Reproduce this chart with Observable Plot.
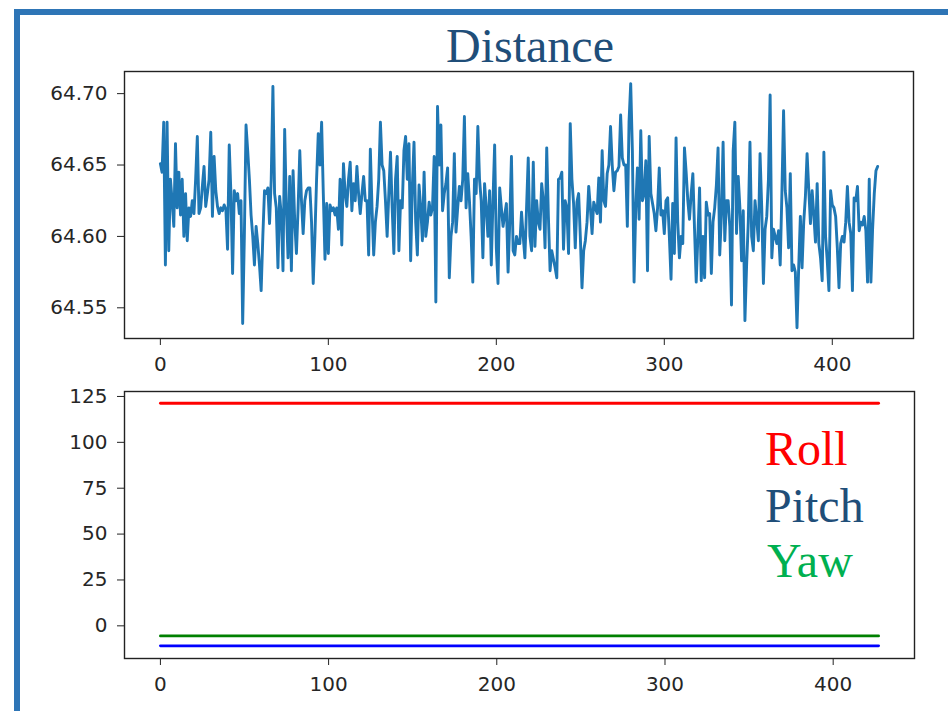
<!DOCTYPE html>
<html>
<head>
<meta charset="utf-8">
<script src="https://cdn.jsdelivr.net/npm/d3@7"></script>
<script src="https://cdn.jsdelivr.net/npm/@observablehq/plot@0.6"></script>
<style>
  html, body { margin: 0; padding: 0; background: #fff; overflow: hidden; }
  #wrap { position: relative; width: 948px; height: 711px; background: #fff; }
  #wrap svg { position: absolute; left: 0; }
  .border { position: absolute; left: 14px; top: 9px; width: 960px; height: 760px;
            border-top: 6px solid #2E75B6; border-left: 6px solid #2E75B6; z-index: 3; pointer-events: none; }
  .txt { position: absolute; font-family: "Liberation Serif", "Times New Roman", serif; font-size: 48px;
         line-height: 48px; white-space: nowrap; z-index: 4; }
</style>
</head>
<body>
<div id="wrap">
  <div class="border"></div>
</div>
<script>
// ---------- data ----------
const titleText = "Distance";
const seriesNames = ["Roll", "Pitch", "Yaw"];
const xTicks = [0, 100, 200, 300, 400];
const distanceTicks = [64.55, 64.60, 64.65, 64.70];
const angleTicks = [0, 25, 50, 75, 100, 125];

const distance = [
64.651,64.645,64.680,64.580,64.680,64.590,64.640,64.625,64.607,64.665,
64.620,64.645,64.615,64.640,64.600,64.630,64.597,64.620,64.614,64.625,
64.616,64.640,64.670,64.616,64.620,64.635,64.649,64.621,64.630,64.640,
64.673,64.614,64.656,64.632,64.621,64.616,64.620,64.618,64.622,64.619,
64.591,64.664,64.630,64.574,64.632,64.625,64.630,64.616,64.625,64.539,
64.600,64.678,64.660,64.640,64.615,64.600,64.580,64.607,64.595,64.580,
64.562,64.600,64.632,64.630,64.634,64.609,64.640,64.705,64.630,64.620,
64.578,64.628,64.615,64.576,64.675,64.620,64.585,64.642,64.576,64.646,
64.610,64.588,64.620,64.660,64.625,64.602,64.625,64.632,64.634,64.634,
64.610,64.567,64.600,64.640,64.672,64.650,64.680,64.630,64.584,64.623,
64.588,64.622,64.618,64.620,64.615,64.620,64.605,64.640,64.594,64.651,
64.630,64.621,64.640,64.652,64.618,64.637,64.625,64.649,64.630,64.616,
64.630,64.642,64.625,64.625,64.587,64.661,64.620,64.587,64.610,64.621,
64.640,64.680,64.650,64.646,64.625,64.600,64.630,64.659,64.620,64.588,
64.640,64.656,64.590,64.625,64.620,64.660,64.670,64.640,64.665,64.583,
64.635,64.666,64.610,64.587,64.636,64.620,64.597,64.645,64.600,64.610,
64.624,64.615,64.620,64.656,64.554,64.691,64.650,64.678,64.618,64.630,
64.637,64.648,64.571,64.600,64.610,64.658,64.603,64.620,64.635,64.625,
64.640,64.684,64.620,64.644,64.625,64.600,64.568,64.640,64.630,64.677,
64.640,64.625,64.585,64.637,64.620,64.600,64.632,64.580,64.625,64.664,
64.592,64.567,64.634,64.620,64.607,64.615,64.623,64.575,64.610,64.656,
64.590,64.587,64.600,64.595,64.595,64.617,64.600,64.585,64.620,64.655,
64.600,64.590,64.652,64.593,64.625,64.610,64.605,64.637,64.625,64.592,
64.662,64.614,64.576,64.590,64.584,64.578,64.571,64.640,64.641,64.645,
64.591,64.625,64.620,64.588,64.679,64.640,64.623,64.592,64.624,64.630,
64.600,64.564,64.590,64.597,64.610,64.635,64.620,64.602,64.624,64.620,
64.616,64.641,64.610,64.660,64.625,64.621,64.644,64.650,64.677,64.650,
64.632,64.645,64.646,64.649,64.685,64.655,64.650,64.650,64.607,64.680,
64.707,64.660,64.568,64.620,64.648,64.612,64.674,64.625,64.630,64.653,
64.576,64.670,64.630,64.623,64.616,64.604,64.620,64.648,64.615,64.618,
64.602,64.625,64.627,64.600,64.570,64.623,64.588,64.669,64.610,64.585,
64.600,64.595,64.662,64.645,64.625,64.612,64.630,64.644,64.605,64.568,
64.600,64.634,64.569,64.600,64.571,64.624,64.615,64.616,64.574,64.610,
64.620,64.636,64.662,64.587,64.615,64.666,64.597,64.625,64.625,64.607,
64.552,64.660,64.680,64.602,64.642,64.620,64.583,64.618,64.541,64.580,
64.610,64.666,64.600,64.590,64.625,64.612,64.597,64.658,64.620,64.567,
64.605,64.614,64.640,64.699,64.585,64.605,64.600,64.595,64.604,64.580,
64.630,64.688,64.632,64.620,64.592,64.644,64.576,64.580,64.575,64.536,
64.578,64.614,64.578,64.610,64.628,64.658,64.633,64.609,64.632,64.615,
64.596,64.637,64.595,64.585,64.569,64.659,64.600,64.583,64.562,64.632,
64.622,64.620,64.614,64.592,64.564,64.595,64.600,64.596,64.610,64.635,
64.610,64.602,64.562,64.627,64.625,64.635,64.604,64.610,64.608,64.614,
64.604,64.568,64.640,64.568,64.605,64.630,64.646,64.649
];

// flat attitude series: first and last frame
const attitudeFrames = [0, 427];
const roll  = [121.3, 121.3];
const pitch = [-10.9, -10.9];
const yaw   = [-5.5, -5.5];

// ---------- build tables ----------
const distRows = distance.map((v, i) => ({frame: i, value: v}));
const attRows = [];
[["Roll", roll], ["Pitch", pitch], ["Yaw", yaw]].forEach(([name, arr]) => {
  arr.forEach((v, k) => attRows.push({series: name, frame: attitudeFrames[k], value: v}));
});

const lineColors = {Roll: "#ff0000", Pitch: "#0000ff", Yaw: "#008000"};
const legendColors = {Roll: "#ff0000", Pitch: "#1F4E79", Yaw: "#00B050"};

const baseStyle = {fontFamily: "DejaVu Sans", fontSize: "20px", color: "#262626", background: "transparent", overflow: "visible"};
const xDomain = [-21.35, 448.35];

const topChart = Plot.plot({
  width: 948, height: 380,
  marginLeft: 124, marginRight: 35, marginTop: 71, marginBottom: 42,
  style: baseStyle,
  x: {domain: xDomain},
  y: {domain: [64.5285, 64.7155]},
  marks: [
    Plot.axisX({ticks: xTicks, tickSize: 7, tickPadding: 11, label: null, stroke: "#222"}),
    Plot.axisY({ticks: distanceTicks, tickFormat: d3.format(".2f"), tickSize: 7, tickPadding: 10, label: null, stroke: "#222"}),
    Plot.line(distRows, {x: "frame", y: "value", stroke: "#1f77b4", strokeWidth: 2.9, strokeLinejoin: "round"}),
    Plot.frame({stroke: "#222", strokeWidth: 1.4})
  ]
});
topChart.style.top = "0px";

const bottomChart = Plot.plot({
  width: 948, height: 331,
  marginLeft: 124, marginRight: 34, marginTop: 11, marginBottom: 53,
  style: baseStyle,
  x: {domain: xDomain},
  y: {domain: [-17.8, 127.7]},
  marks: [
    Plot.axisX({ticks: xTicks, tickSize: 7, tickPadding: 11, label: null, stroke: "#222"}),
    Plot.axisY({ticks: angleTicks, tickSize: 7, tickPadding: 10, label: null, stroke: "#222"}),
    Plot.line(attRows, {x: "frame", y: "value", z: "series", stroke: d => lineColors[d.series], strokeWidth: 2.8}),
    Plot.frame({stroke: "#222", strokeWidth: 1.4})
  ]
});
bottomChart.style.top = "380px";

const wrap = document.getElementById("wrap");
wrap.appendChild(topChart);
wrap.appendChild(bottomChart);

// title
const titleDiv = document.createElement("div");
titleDiv.className = "txt";
titleDiv.textContent = titleText;
titleDiv.style.color = "#1F4E79";
titleDiv.style.left = "530px";
titleDiv.style.transform = "translateX(-50%)";
titleDiv.style.top = "22px";
wrap.appendChild(titleDiv);

// legend text
const legendTops = {Roll: 425, Pitch: 482, Yaw: 537};
const legendLefts = {Roll: 765, Pitch: 765, Yaw: 767};
seriesNames.forEach(name => {
  const d = document.createElement("div");
  d.className = "txt";
  d.textContent = name;
  d.style.color = legendColors[name];
  d.style.left = legendLefts[name] + "px";
  d.style.top = legendTops[name] + "px";
  wrap.appendChild(d);
});
</script>
</body>
</html>
